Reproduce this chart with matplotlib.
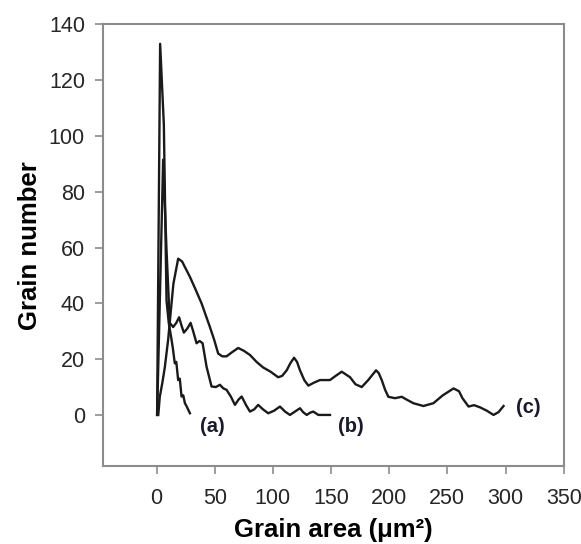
import matplotlib
matplotlib.use("Agg")
import matplotlib.pyplot as plt

plt.rcParams["font.family"] = ["Liberation Sans", "DejaVu Sans"]

# curve (a): narrow distribution
a_x = [0.5, 3.1, 6.3, 8.6, 10.5, 12.9, 14.0, 15.7, 17.0, 18.6, 20.0, 21.5, 23.0, 24.4, 26.0, 28.7]
a_y = [0, 133, 104, 41, 33, 27, 24, 18.5, 19, 12.5, 13, 6.6, 7, 4.2, 3, 0.6]

# curve (b)
b_x = [0.5, 5.7, 8.5, 11.4, 14.3, 17.0, 19.4, 21.5, 23.5, 26.5, 29.3, 31.5, 34.4, 37.0, 39.6,
       43.0, 47.3, 51.0, 54.5, 57.5, 60.2, 64.0, 67.4, 70.5, 73.2, 77.0, 80.3, 84.0, 87.4,
       91.5, 96.0, 101.0, 106.1, 110.5, 114.7, 119.0, 123.3, 126.0, 129.1, 132.0, 134.8,
       139.1, 149.1]
b_y = [0, 91.5, 60, 33, 31.5, 33, 35, 32, 29.5, 31, 33, 30, 25.7, 26.5, 25.7,
       17.3, 10.2, 10, 10.8, 9.5, 9, 6.5, 3.6, 5.5, 6.6, 3.5, 1.2, 2, 3.6,
       2, 0.6, 1.5, 3, 1.2, 0, 1.2, 2.4, 1, 0, 0.8, 1.2,
       0, 0]

# curve (c): broad distribution
c_x = [1.5, 2.8, 5.0, 7.1, 10.0, 12.0, 14.5, 18.6, 22.0, 25.0, 28.7, 33.5, 38.7, 42.5, 45.9,
       49.5, 53.0, 56.5, 60.2, 65.0, 70.2, 75.0, 80.3, 86.0, 91.7, 98.0, 104.6, 108.0, 111.9,
       115.0, 118.2, 120.8, 123.3, 127.0, 130.5, 135.0, 140.5, 149.1, 154.0, 159.2, 166.4,
       171.0, 176.4, 182.0, 188.7, 191.0, 193.6, 196.5, 199.3, 205.0, 210.8, 215.0, 220.8,
       229.4, 238.0, 246.0, 255.3, 260.0, 263.0, 268.2, 273.0, 278.2, 284.0, 289.7, 294.0,
       298.3]
c_y = [0, 6.5, 11.5, 17, 27, 36, 47, 56, 55, 52.5, 49.5, 45, 40, 35.5, 31.5,
       27, 22, 21, 21, 22.5, 24, 23, 21.5, 19, 17, 15.5, 13.5, 14, 16,
       18.5, 20.5, 19, 16, 12.5, 10.5, 11.5, 12.5, 12.5, 14, 15.5, 13.5,
       11, 10, 12.5, 16, 15, 12.5, 9, 6.5, 6, 6.5, 5.5, 4.2,
       3.2, 4.2, 7, 9.5, 8.5, 6, 3, 3.5, 2.7, 1.5, 0, 1,
       3.2]

labels = ["(a)", "(b)", "(c)"]
label_pos = [(47.6, -4.3), (167.2, -4.3), (319.5, 2.5)]

x_ticks = [0, 50, 100, 150, 200, 250, 300, 350]
y_ticks = [0, 20, 40, 60, 80, 100, 120, 140]

fig = plt.figure(figsize=(5.81, 5.44), dpi=100)
ax = fig.add_axes([0.1773, 0.1434, 0.7929, 0.8119])

line_kw = dict(color="#1a1a1a", linewidth=1.7)
ax.plot(a_x, a_y, **line_kw)
ax.plot(b_x, b_y, **line_kw)
ax.plot(c_x, c_y, **line_kw)

for txt, (tx, ty) in zip(labels, label_pos):
    ax.text(tx, ty, txt, fontsize=14.5, fontweight="bold", color="#1a1a2a",
            ha="center", va="center")

ax.set_xlim(-46, 350)
ax.set_ylim(-18.3, 140)
ax.set_xticks(x_ticks)
ax.set_yticks(y_ticks)

for side in ["left", "right", "top", "bottom"]:
    ax.spines[side].set_color("#8c8c8c")
    ax.spines[side].set_linewidth(1.5)

ax.tick_params(axis="both", direction="out", length=6, width=1.2, color="#8c8c8c",
               labelsize=15.5, labelcolor="#262626", pad=7)
ax.tick_params(axis="x", pad=10)

ax.set_xlabel("Grain area (μm²)", fontsize=18.5, fontweight="bold", labelpad=6)
ax.set_ylabel("Grain number", fontsize=18.5, fontweight="bold", labelpad=5)

fig.savefig("out.png", dpi=100)
plt.close(fig)
